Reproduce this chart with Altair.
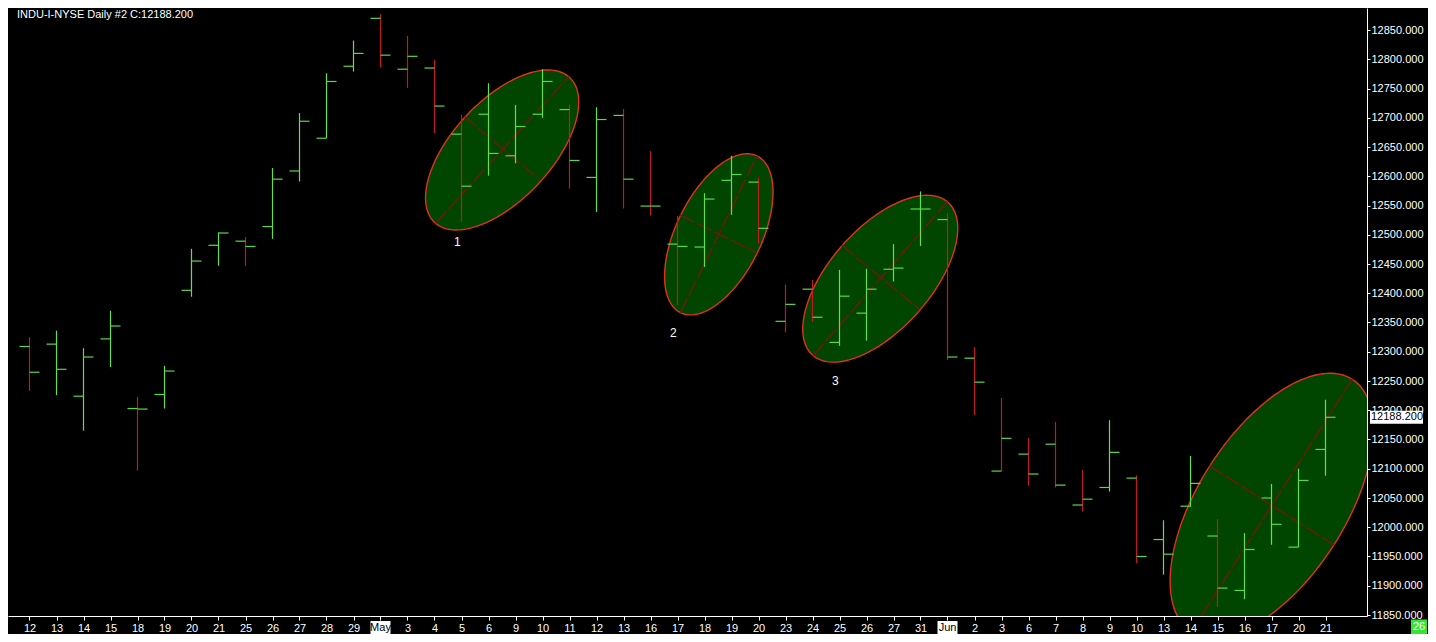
import altair as alt
import numpy as np
import pandas as pd

# ---------------- data ----------------
dates = ["12","13","14","15","18","19","20","21","25","26","27","28","29","May",
         "3","4","5","6","9","10","11","12","13","16","17","18","19","20",
         "23","24","25","26","27","31","Jun","2","3","6","7","8","9","10",
         "13","14","15","16","17","20","21"]
opens  = [12309,12313,12224,12322,12203,12227,12405,12482,12489,12514,12609,12665,12788,12870,
          12783,12785,12672,12706,12635,12706,12714,12598,12704,12549,12484,12479,12593,12590,
          12352,12407,12316,12366,12441,12544,12526,12289,12096,12125,12142,12038,12068,12084,
          11979,12036,11985,11892,12050,11966,12133]
highs  = [12325,12336,12306,12370,12223,12276,12476,12504,12496,12614,12708,12776,12832,12877,
          12840,12799,12705,12759,12722,12783,12722,12718,12715,12643,12532,12571,12635,12597,
          12415,12423,12440,12442,12484,12574,12537,12308,12221,12153,12180,12098,12183,12089,
          12012,12122,12014,11990,12074,12100,12218]
lows   = [12233,12226,12165,12274,12097,12203,12394,12447,12447,12493,12591,12665,12779,12786,
          12751,12674,12522,12601,12622,12700,12579,12539,12545,12533,12380,12445,12534,12485,
          12333,12351,12310,12319,12420,12481,12286,12192,12096,12071,12068,12027,12061,11939,
          11919,12035,11864,11877,11970,11966,12088]
closes = [12265,12270,12291,12344,12202,12267,12455,12503,12480,12595,12694,12762,12810,12807,
          12805,12720,12583,12639,12685,12762,12627,12697,12595,12549,12480,12561,12603,12511,
          12381,12359,12395,12407,12443,12544,12291,12248,12152,12091,12072,12048,12128,11950,
          11954,12075,11896,11962,12005,12080,12188]
bar_dir = ["down","up","up","up","down","up","up","up","down","up","up","up","up","down",
           "down","down","down","up","up","up","down","up","down","down","down","up","up","down",
           "down","down","up","up","up","up","down","down","down","down","down","down","up","down",
           "up","up","down","up","up","up","up"]

# ellipses: major-axis and minor-axis end points (bar index, price)
major_x1 = [15.04, 24.11, 29.03, 43.03]
major_y1 = [12519.6, 12366.8, 12293.2, 11821.5]
major_x2 = [19.97, 26.95, 33.99, 48.99]
major_y2 = [12770.2, 12634.6, 12556.5, 12252.9]
minor_x1 = [16.09, 24.09, 30.07, 43.71]
minor_y1 = [12703.0, 12533.8, 12482.5, 12104.7]
minor_x2 = [18.90, 26.93, 32.96, 48.31]
minor_y2 = [12593.6, 12469.3, 12372.6, 11969.7]

wave_labels = ["1", "2", "3"]
wave_x = [15.85, 23.85, 29.85]
wave_y = [12487.6, 12332.1, 12250.0]

title_text = "INDU-I-NYSE  Daily  #2 C:12188.200"
last_close = [12188.2]
last_close_label = ["12188.200"]
month_labels = ["May", "Jun"]
month_idx = [13, 34]
corner_label = ["26"]
y_ticks = list(range(11850, 12851, 50))

# ---------------- layout / style ----------------
W, H = 1359, 608
PAD_R, PAD_B = 61, 18
GREEN = "#66de52"
TICKG = "#5ad84a"
RED = "#c01a1a"
FONT = "Liberation Sans"

x_dom = [-21.5 / 27, -21.5 / 27 + W / 27]
y_top = 12850 + 22 / 0.585
y_dom = [y_top - H / 0.585, y_top]
xs = alt.Scale(domain=x_dom, nice=False, zero=False)
ys = alt.Scale(domain=y_dom, nice=False, zero=False)

bars = pd.DataFrame({"idx": list(range(len(dates))), "open": opens, "high": highs,
                     "low": lows, "close": closes, "dir": bar_dir})

label_list = ",".join("'" + ("" if d in month_labels else d) + "'" for d in dates)
x_axis = alt.Axis(values=list(range(len(dates))), labelExpr="[" + label_list + "][datum.value]",
                  title=None, grid=False, domainColor="white", tickColor="white", labelColor="white",
                  tickSize=4, labelPadding=2, labelFontSize=11, labelFont=FONT, labelOverlap=False,
                  labelFlush=False, domainWidth=1, orient="bottom")
y_axis = alt.Axis(values=y_ticks, format=".3f", title=None, grid=False, domainColor="white",
                  tickColor="white", labelColor="white", tickSize=3, labelPadding=1,
                  labelFontSize=11, labelFont=FONT, orient="right", labelOverlap=False,
                  labelFlush=False)


def X(field):
    return alt.X(field, scale=xs, axis=x_axis)


def Y(field):
    return alt.Y(field, scale=ys, axis=y_axis)


# ellipse outlines (parametric from axis end points)
t = np.linspace(0, 2 * np.pi, 181)
rows = []
for k in range(len(major_x1)):
    cx = (major_x1[k] + major_x2[k]) / 2
    cy = (major_y1[k] + major_y2[k]) / 2
    ax = (major_x2[k] - major_x1[k]) / 2
    ay = (major_y2[k] - major_y1[k]) / 2
    bx = (minor_x2[k] - minor_x1[k]) / 2
    by = (minor_y2[k] - minor_y1[k]) / 2
    for j, tt in enumerate(t):
        rows.append({"e": k, "k": j,
                     "x": cx + ax * np.cos(tt) + bx * np.sin(tt),
                     "y": cy + ay * np.cos(tt) + by * np.sin(tt)})
ell = pd.DataFrame(rows)
axes_df = pd.DataFrame({"x1": major_x1 + minor_x1, "y1": major_y1 + minor_y1,
                        "x2": major_x2 + minor_x2, "y2": major_y2 + minor_y2})

ellipse_layer = alt.Chart(ell).mark_line(
    fill="#004600", stroke="#e0321c", strokeWidth=1.4, clip=True
).encode(x=X("x:Q"), y=Y("y:Q"), order="k:Q", detail="e:N")

axis_lines = alt.Chart(axes_df).mark_rule(
    color="#661c0e", strokeWidth=1.6, strokeDash=[16, 3], clip=True
).encode(x=X("x1:Q"), x2="x2:Q", y=Y("y1:Q"), y2="y2:Q")

hl = alt.Chart(bars).mark_rule(strokeWidth=1.2).encode(
    x=X("idx:Q"), y=Y("low:Q"), y2="high:Q",
    color=alt.Color("dir:N", scale=alt.Scale(domain=["up", "down"], range=[GREEN, RED]),
                    legend=None))

open_tick = alt.Chart(bars).mark_rule(strokeWidth=1.2, color=TICKG, xOffset=-10).encode(
    x=X("idx:Q"), x2="idx:Q", y=Y("open:Q"))
close_tick = alt.Chart(bars).mark_rule(strokeWidth=1.2, color=TICKG, x2Offset=10).encode(
    x=X("idx:Q"), x2="idx:Q", y=Y("close:Q"))

waves = alt.Chart(pd.DataFrame({"lab": wave_labels, "x": wave_x, "y": wave_y})).mark_text(
    color="white", fontSize=12, font=FONT, align="center", baseline="middle"
).encode(x=X("x:Q"), y=Y("y:Q"), text="lab:N")

title = alt.Chart(pd.DataFrame({"t": [title_text]})).mark_text(
    color="white", fontSize=11, font=FONT, align="left", baseline="top"
).encode(x=alt.value(9), y=alt.value(1), text="t:N")

months = pd.DataFrame({"m": month_labels, "idx": month_idx})
month_box = alt.Chart(months).mark_rule(color="white", strokeWidth=14, xOffset=-10, x2Offset=10).encode(
    x=X("idx:Q"), x2="idx:Q", y=alt.value(H + 12))
month_text = alt.Chart(months).mark_text(color="black", fontSize=11, font=FONT,
                                         align="center", baseline="middle").encode(
    x=X("idx:Q"), y=alt.value(H + 12), text="m:N")

lc = pd.DataFrame({"p": last_close, "lab": last_close_label})
lc_box = alt.Chart(lc).mark_rule(color="white", strokeWidth=13).encode(
    x=alt.value(W + 3), x2=alt.value(W + 56), y=Y("p:Q"))
lc_text = alt.Chart(lc).mark_text(color="black", fontSize=11, font=FONT, align="left",
                                  baseline="middle").encode(
    x=alt.value(W + 4), y=Y("p:Q"), text="lab:N")

corner = pd.DataFrame({"lab": corner_label})
corner_box = alt.Chart(corner).mark_rule(color="#33e633", strokeWidth=15).encode(
    x=alt.value(W + 44), x2=alt.value(W + 60), y=alt.value(H + 11))
corner_text = alt.Chart(corner).mark_text(color="white", fontSize=11, font=FONT,
                                          align="center", baseline="middle").encode(
    x=alt.value(W + 52), y=alt.value(H + 11), text="lab:N")

chart = alt.layer(
    ellipse_layer, axis_lines, hl, open_tick, close_tick, waves, title,
    month_box, month_text, lc_box, lc_text, corner_box, corner_text
).properties(
    width=W, height=H,
    padding={"left": 0, "top": 0, "right": PAD_R, "bottom": PAD_B},
    autosize=alt.AutoSizeParams(type="none"),
    background="#000000"
).configure_view(stroke=None)

chart.save("out.html", embed_options={"renderer": "svg", "actions": False})
